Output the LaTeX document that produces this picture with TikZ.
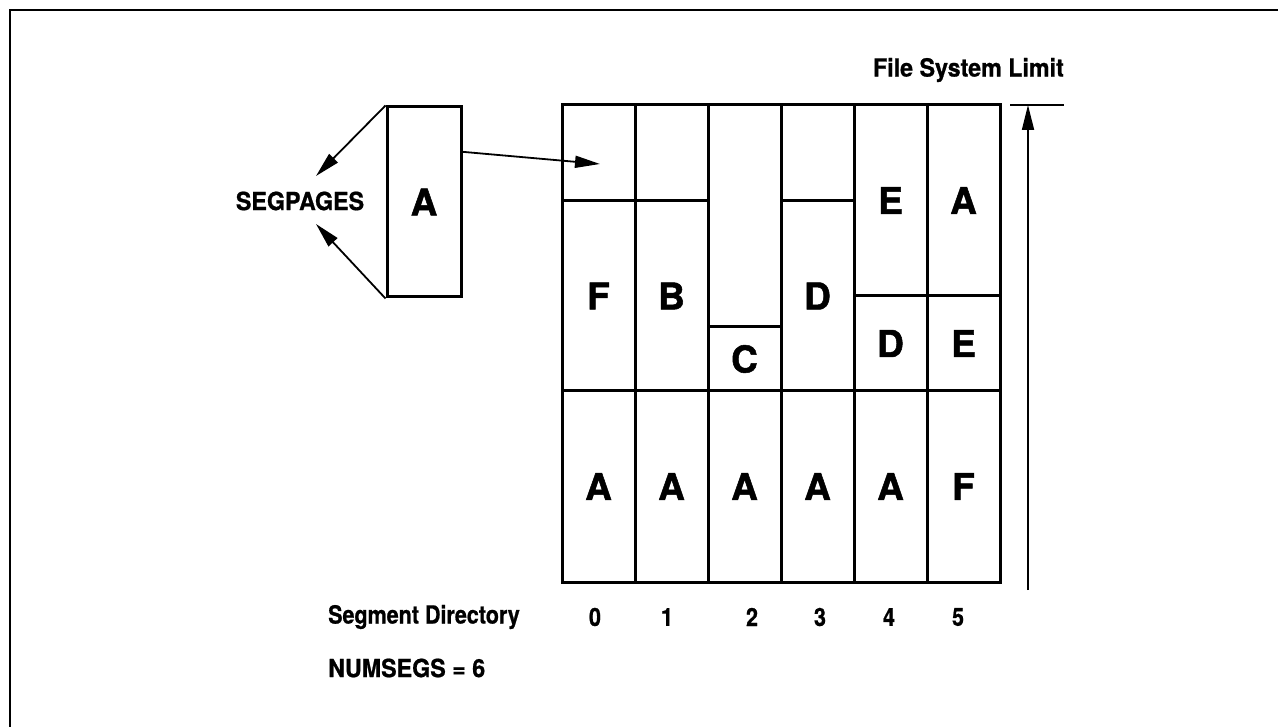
\documentclass[tikz,border=0pt]{standalone}
\usepackage{fontspec}
\setmainfont{TeX Gyre Heros}[BoldFeatures={FakeBold=1.4}]
\newfontfamily\semifont{TeX Gyre Heros}[FakeStretch=0.93, BoldFeatures={FakeBold=0.8}]
\newfontfamily\condfont{TeX Gyre Heros}[FakeStretch=0.86, BoldFeatures={FakeBold=0.8}]
\usetikzlibrary{arrows.meta,calc}

\begin{document}
\begin{tikzpicture}[x=1pt, y=-1pt,
  cell/.style={
    draw, line width=3pt,
    minimum width=73pt,
    minimum height=#1,
    inner sep=0pt,
    font=\fontsize{37}{40}\selectfont\bfseries
  },
  lbl/.style={inner sep=0pt, font=\fontsize{25}{28}\selectfont\semifont\bfseries},
  cond/.style={inner sep=0pt, font=\fontsize{25}{28}\selectfont\condfont\bfseries},
  arr/.style={-{Triangle[length=25pt,width=12pt]}, line width=1.8pt, black}
]
  \useasboundingbox (0,0) rectangle (1278,727);
  \draw[line width=2pt] (1278,10) -- (10,10) -- (10,727);

  % SEGPAGES
  \node[lbl] (segpages) at (300,201) {SEGPAGES};
  \node[cell=190pt, minimum width=74pt] (segbox) at (424,202) {A};
  \coordinate (spup) at (316,176);
  \coordinate (splo) at (316,224);
  \draw[arr] (segbox.north west) -- (spup);
  \draw[arr] (segbox.south west) -- (splo);

  % Segments
  \node[cell=96pt]  (t0) at (598.5,153)   {};
  \node[cell=190pt] (m0) at (598.5,296)   {F};
  \node[cell=96pt]  (t1) at (671.5,153)   {};
  \node[cell=190pt] (m1) at (671.5,296)   {B};
  \node[cell=222pt] (t2) at (744.5,216)   {};
  \node[cell=64pt]  (m2) at (744.5,359)   {C};
  \node[cell=96pt]  (t3) at (817.5,153)   {};
  \node[cell=190pt] (m3) at (817.5,296)   {D};
  \node[cell=191pt] (t4) at (890.5,200.5) {E};
  \node[cell=95pt]  (m4) at (890.5,343.5) {D};
  \node[cell=191pt] (t5) at (963.5,200.5) {A};
  \node[cell=95pt]  (m5) at (963.5,343.5) {E};
  \foreach \l [count=\i from 0] in {A,A,A,A,A,F}
    \node[cell=191pt] (b\i) at (598.5+73*\i,486.5) {\l};

  \coordinate (tip) at (600,164);
  \draw[arr] ($(segbox.north east)!0.24!(segbox.south east)$) -- (tip);

  % File System Limit
  \node[lbl, anchor=east] (fsl) at (1064,70) {File System Limit};
  \coordinate (barl) at (1010,105);
  \coordinate (barr) at (1064,105);
  \coordinate (limtop) at (1028,105);
  \coordinate (limbot) at (1028,590);
  \draw[line width=2pt] (barl) -- (barr);
  \draw[arr] (limbot) -- (limtop);

  % Directory
  \node[cond, anchor=west] (segdir) at (328,617) {Segment Directory};
  \foreach \x [count=\i from 0] in {595,667,752,820,889,958}
    \node[cond] (d\i) at (\x,617) {\i};
  \node[lbl, anchor=west] (numsegs) at (328,668) {NUMSEGS = 6};
\end{tikzpicture}
\end{document}
